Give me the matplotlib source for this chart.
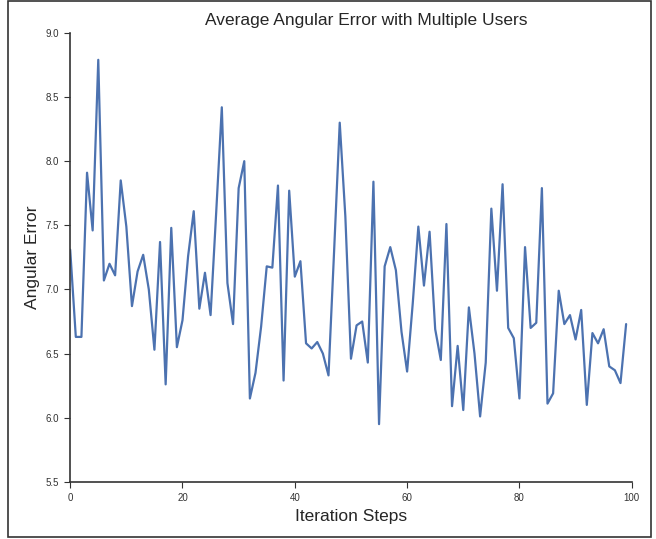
import matplotlib
matplotlib.use('Agg')
from matplotlib import pyplot as plt
from matplotlib.patches import Rectangle
import seaborn as sns
import numpy as np

sns.set_style('ticks')
plt.rcParams['font.family'] = ['Liberation Sans', 'DejaVu Sans']

# angular error per iteration step
steps = np.arange(100)
errors = [7.31, 6.63, 6.63, 7.91, 7.46, 8.79, 7.07, 7.20, 7.11, 7.85,
          7.49, 6.87, 7.14, 7.27, 7.00, 6.53, 7.37, 6.26, 7.48, 6.55,
          6.76, 7.26, 7.61, 6.85, 7.13, 6.80, 7.60, 8.42, 7.05, 6.73,
          7.79, 8.00, 6.15, 6.35, 6.71, 7.18, 7.17, 7.81, 6.29, 7.77,
          7.10, 7.22, 6.58, 6.54, 6.59, 6.50, 6.33, 7.30, 8.30, 7.57,
          6.46, 6.72, 6.75, 6.43, 7.84, 5.95, 7.18, 7.33, 7.15, 6.67,
          6.36, 6.89, 7.49, 7.03, 7.45, 6.69, 6.45, 7.51, 6.09, 6.56,
          6.06, 6.86, 6.50, 6.01, 6.43, 7.63, 6.99, 7.82, 6.70, 6.62,
          6.15, 7.33, 6.70, 6.74, 7.79, 6.11, 6.19, 6.99, 6.73, 6.80,
          6.61, 6.84, 6.10, 6.66, 6.58, 6.69, 6.40, 6.37, 6.27, 6.73]

yticks = [5.5, 6.0, 6.5, 7.0, 7.5, 8.0, 8.5, 9.0]
xticks = [0, 20, 40, 60, 80, 100]

fig = plt.figure(figsize=(6.56, 5.39), dpi=100)
ax = fig.add_axes([0.107, 0.106, 0.856, 0.833])

ax.plot(steps, errors, color='#4C72B0', linewidth=1.6)

ax.set_xlim(0, 100)
ax.set_ylim(5.5, 9.0)
ax.set_xticks(xticks)
ax.set_yticks(yticks)
ax.set_yticklabels(['%.1f' % t for t in yticks])
ax.tick_params(labelsize=7, colors='#333333', length=4.5)

ax.set_title('Average Angular Error with Multiple Users', fontsize=12.5,
             color='#262626', x=0.527)
ax.set_xlabel('Iteration Steps', fontsize=12.5, color='#262626')
ax.set_ylabel('Angular Error', fontsize=12.5, color='#262626')

for s in ['top', 'right']:
    ax.spines[s].set_visible(False)
for s in ['left', 'bottom']:
    ax.spines[s].set_color('#333333')
    ax.spines[s].set_linewidth(1.2)

# frame around the whole figure
fig.patches.append(Rectangle((8 / 656, 2 / 539), 643 / 656, 536 / 539,
                             transform=fig.transFigure, fill=False,
                             edgecolor='#333333', linewidth=1.2))

fig.savefig('out.png', dpi=100)
